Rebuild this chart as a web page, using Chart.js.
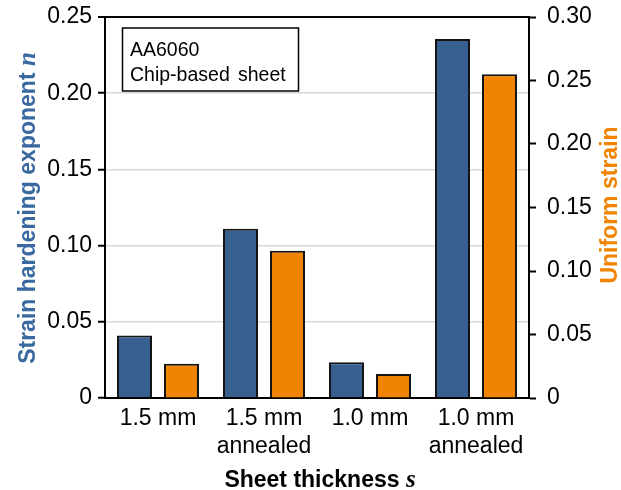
<!DOCTYPE html>
<html>
<head>
<meta charset="utf-8">
<script src="https://cdn.jsdelivr.net/npm/chart.js@4"></script>
<style>
  html, body { margin: 0; padding: 0; background: #fff; }
  #wrap { width: 621px; height: 490px; }
</style>
</head>
<body>
<div id="wrap"><canvas id="grafico" width="621" height="490"></canvas></div>
<script>
// datos
const categorias = [["1.5 mm"], ["1.5 mm", "annealed"], ["1.0 mm"], ["1.0 mm", "annealed"]];
const exponenteN = [0.041, 0.111, 0.0235, 0.2355];
const deformacionUniforme = [0.027, 0.116, 0.0188, 0.255];
const ticksIzq = [0, 0.05, 0.10, 0.15, 0.20, 0.25];
const ticksDer = [0, 0.05, 0.10, 0.15, 0.20, 0.25, 0.30];

const AZUL = "#375f8f";
const NARANJA = "#f08300";
const AZUL_TITULO = "#3a69a0";
const SANS = "'Liberation Sans', Arial, sans-serif";
const SERIF = "'Liberation Serif', 'Times New Roman', serif";

function etiqueta(v) {
  return v === 0 ? "0" : v.toFixed(2);
}

// titulos de ejes con letra en cursiva y cuadro de texto
const extras = {
  id: "extras",
  afterDraw(chart) {
    const ctx = chart.ctx;

    function titulo(partes, x, y, rot, color) {
      ctx.save();
      ctx.translate(x, y);
      ctx.rotate(rot);
      ctx.fillStyle = color;
      ctx.textBaseline = "alphabetic";
      ctx.textAlign = "left";
      let total = 0;
      partes.forEach((p) => {
        ctx.font = p.font;
        total += ctx.measureText(p.text).width;
      });
      let cx = -total / 2;
      partes.forEach((p) => {
        ctx.font = p.font;
        ctx.fillText(p.text, cx, 0);
        cx += ctx.measureText(p.text).width;
      });
      ctx.restore();
    }

    titulo(
      [
        { text: "Strain hardening exponent ", font: "bold 23px " + SANS },
        { text: "n", font: "italic bold 25px " + SERIF },
      ],
      35, 208, -Math.PI / 2, AZUL_TITULO
    );
    titulo(
      [{ text: "Uniform strain", font: "bold 23px " + SANS }],
      617, 205, -Math.PI / 2, NARANJA
    );
    titulo(
      [
        { text: "Sheet thickness ", font: "bold 23px " + SANS },
        { text: "s", font: "italic bold 25px " + SERIF },
      ],
      320, 487, 0, "#000"
    );

    // cuadro
    ctx.save();
    ctx.strokeStyle = "#000";
    ctx.lineWidth = 1.5;
    ctx.fillStyle = "#fff";
    ctx.fillRect(122.5, 28, 176, 63);
    ctx.strokeRect(122.5, 28, 176, 63);
    ctx.fillStyle = "#000";
    ctx.font = "19.5px " + SANS;
    ctx.textBaseline = "alphabetic";
    ctx.fillText("AA6060", 130, 56);
    ctx.fillText("Chip-based", 130, 81);
    ctx.fillText("sheet", 238, 81);
    ctx.restore();
  },
};

const ctx = document.getElementById("grafico").getContext("2d");

function sinRelleno(scale) {
  scale.paddingTop = 0;
  scale.paddingBottom = 0;
}

new Chart(ctx, {
  type: "bar",
  data: {
    labels: categorias,
    datasets: [
      {
        label: "Strain hardening exponent n",
        data: exponenteN,
        backgroundColor: AZUL,
        borderColor: "#141414",
        borderWidth: 2,
        yAxisID: "y",
      },
      {
        label: "Uniform strain",
        data: deformacionUniforme,
        backgroundColor: NARANJA,
        borderColor: "#141414",
        borderWidth: 2,
        yAxisID: "y1",
      },
    ],
  },
  options: {
    responsive: false,
    animation: false,
    categoryPercentage: 0.887,
    barPercentage: 0.745,
    layout: { padding: { top: 17, left: 0, right: 0, bottom: 0 } },
    plugins: {
      legend: { display: false },
      tooltip: { enabled: false },
    },
    scales: {
      x: {
        grid: { display: false, drawTicks: false },
        border: { display: true, color: "#000", width: 2 },
        ticks: {
          color: "#000",
          padding: 7,
          font: { family: SANS, size: 23, lineHeight: 1.22 },
        },
        afterFit(scale) {
          scale.height = 92;
          scale.paddingLeft = 0;
          scale.paddingRight = 0;
        },
      },
      y: {
        position: "left",
        min: 0,
        max: 0.25,
        afterBuildTicks(scale) {
          scale.ticks = ticksIzq.map((v) => ({ value: v }));
        },
        grid: {
          color: (c) => (c.tick && c.tick.value === 0.25 ? "#000" : "#d9d9d9"),
          lineWidth: (c) => (c.tick && c.tick.value === 0.25 ? 2 : 1.5),
          tickColor: "#000",
          tickLength: 7,
          tickWidth: 2,
        },
        border: { display: true, color: "#000", width: 2 },
        ticks: {
          color: "#000",
          padding: 6,
          font: { family: SANS, size: 23 },
          callback: (v) => etiqueta(v),
        },
        afterFit(scale) {
          scale.width = 105;
          sinRelleno(scale);
        },
      },
      y1: {
        position: "right",
        min: 0,
        max: 0.30,
        afterBuildTicks(scale) {
          scale.ticks = ticksDer.map((v) => ({ value: v }));
        },
        grid: {
          drawOnChartArea: false,
          tickColor: "#000",
          tickLength: 7,
          tickWidth: 2,
        },
        border: { display: true, color: "#000", width: 2 },
        ticks: {
          color: "#000",
          padding: 11,
          font: { family: SANS, size: 23 },
          callback: (v) => etiqueta(v),
        },
        afterFit(scale) {
          scale.width = 92;
          sinRelleno(scale);
        },
      },
    },
  },
  plugins: [extras],
});
</script>
</body>
</html>
